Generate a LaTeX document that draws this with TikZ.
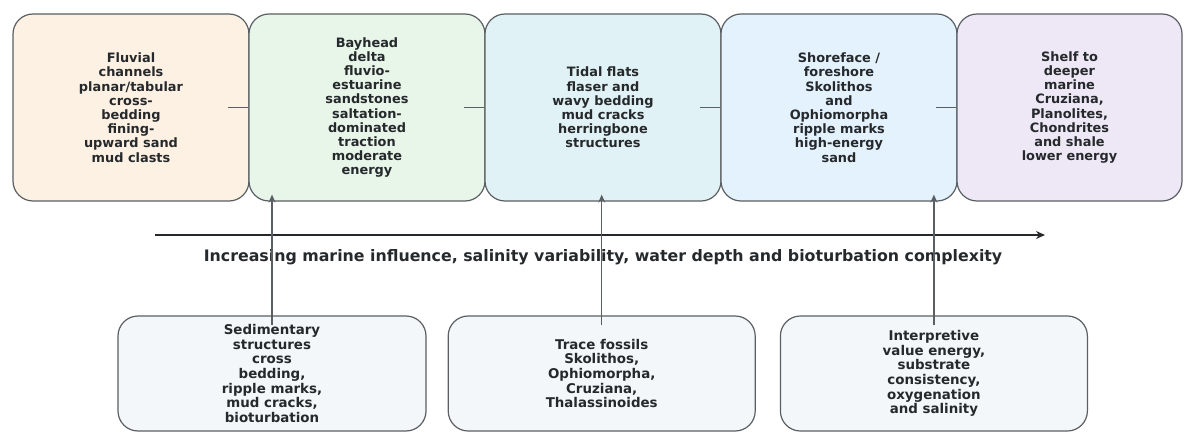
\documentclass[tikz,border=0pt]{standalone}
\usepackage{xcolor}
\usepackage{fontspec}
\setmainfont{DejaVu Sans}
\usepackage{tikz}
\usetikzlibrary{arrows.meta,positioning,calc}
\definecolor{fluvialpeach}{HTML}{FDF1E3}
\definecolor{deltagreen}{HTML}{E8F5E9}
\definecolor{tidalcyan}{HTML}{E0F2F5}
\definecolor{shoreblue}{HTML}{E3F2FD}
\definecolor{shelfviolet}{HTML}{EDE7F6}
\definecolor{notegray}{HTML}{F4F7FA}
\definecolor{edgegray}{HTML}{5A5F63}
\definecolor{inkdark}{HTML}{26292C}

\begin{document}
\begin{tikzpicture}[x=1pt,y=1pt,node distance=-1.2pt,
  zone/.style={draw=edgegray,line width=1.2pt,rounded corners=20pt,minimum width=236pt,minimum height=187pt,align=center,text=inkdark,font=\fontsize{12.9}{14.2}\selectfont\bfseries},
  note/.style={zone,fill=notegray,minimum width=308pt,minimum height=115pt,font=\fontsize{13.4}{14.6}\selectfont\bfseries},
  link/.style={draw=edgegray,line width=1.4pt},
  arrow/.style={link,-{Stealth[length=8pt,width=7pt]}},
  trend/.style={draw=inkdark,line width=1.8pt,-{Stealth[length=9pt,width=8pt]}}
]
  \useasboundingbox (0,0) rectangle (1184,432);
  % environments, landward to seaward
  \node[zone,fill=fluvialpeach] (P1) at (131,324.5) {Fluvial\\channels\\planar/tabular\\cross-\\bedding\\fining-\\upward sand\\mud clasts};
  \node[zone,fill=deltagreen,right=of P1] (P2) {Bayhead\\delta\\fluvio-\\estuarine\\sandstones\\saltation-\\dominated\\traction\\moderate\\energy};
  \node[zone,fill=tidalcyan,right=of P2] (P3) {Tidal flats\\flaser and\\wavy bedding\\mud cracks\\herringbone\\structures};
  \node[zone,fill=shoreblue,right=of P3] (P4) {Shoreface /\\foreshore\\Skolithos\\and\\Ophiomorpha\\ripple marks\\high-energy\\sand};
  \node[zone,fill=shelfviolet,minimum width=225pt,right=of P4] (P5) {Shelf to\\deeper\\marine\\Cruziana,\\Planolites,\\Chondrites\\and shale\\lower energy};
  \draw[link] ([xshift=-22pt]P1.east) -- (P2.west);
  \draw[link] ([xshift=-22pt]P2.east) -- (P3.west);
  \draw[link] ([xshift=-22pt]P3.east) -- (P4.west);
  \draw[link] ([xshift=-22pt]P4.east) -- (P5.west);
  % trend arrow
  \coordinate (trendstart) at (155,197);
  \coordinate (trendend) at (1045,197);
  \draw[trend] (trendstart) -- (trendend);
  \node[text=inkdark,font=\fontsize{15.8}{18}\selectfont\bfseries] (trendlabel) at (603,175) {Increasing marine influence, salinity variability, water depth and bioturbation complexity};
  % evidence boxes
  \node[note] (S1) at (272,58.5) {Sedimentary\\structures\\cross\\bedding,\\ripple marks,\\mud cracks,\\bioturbation};
  \node[note,minimum width=307pt,right=21pt of S1] (S2) {Trace fossils\\Skolithos,\\Ophiomorpha,\\Cruziana,\\Thalassinoides};
  \node[note,minimum width=307pt,right=24pt of S2] (S3) {Interpretive\\value energy,\\substrate\\consistency,\\oxygenation\\and salinity};
  \draw[arrow] ([yshift=-10pt]S1.north) -- ([yshift=7pt]S1.north |- P2.south);
  \draw[arrow] ([yshift=-10pt]S2.north) -- ([yshift=7pt]S2.north |- P3.south);
  \draw[arrow] ([yshift=-10pt]S3.north) -- ([yshift=7pt]S3.north |- P4.south);
\end{tikzpicture}
\end{document}
